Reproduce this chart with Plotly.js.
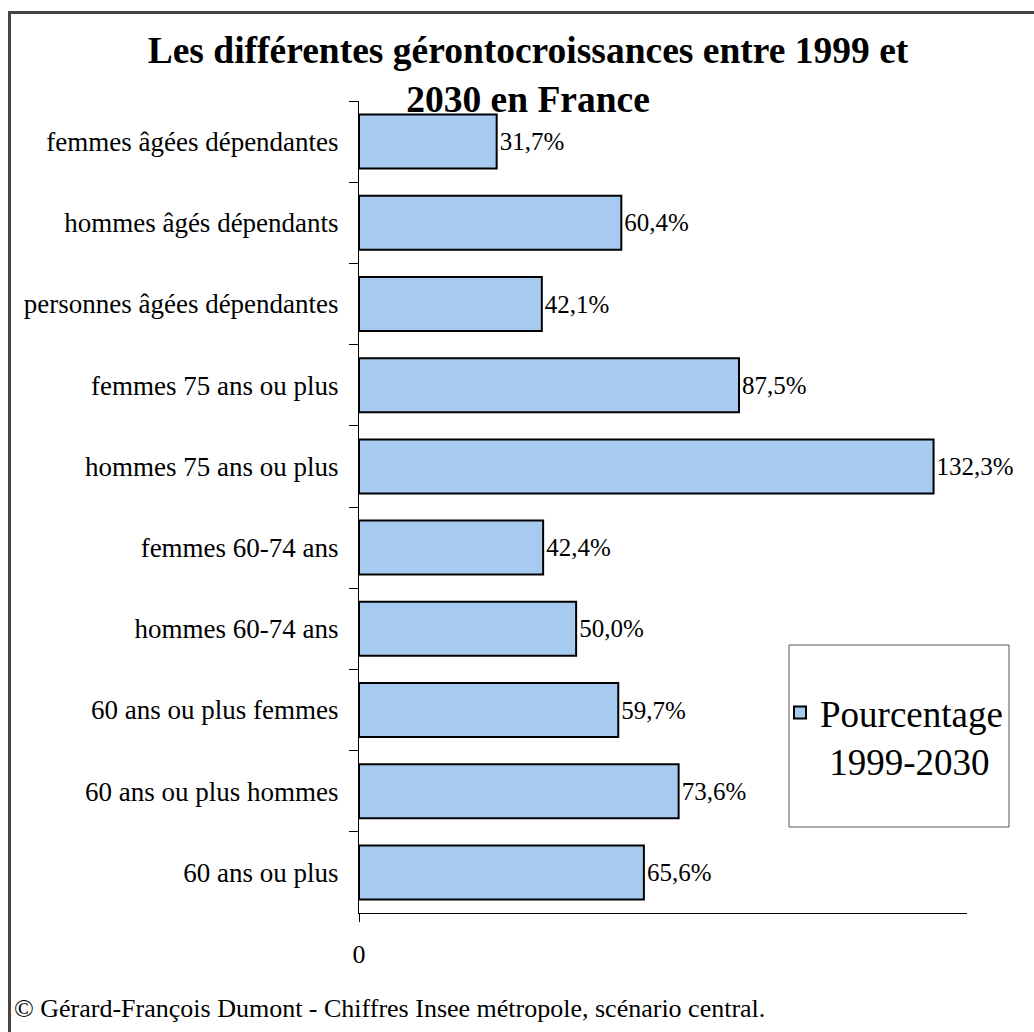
<!DOCTYPE html>
<html>
<head>
<meta charset="utf-8">
<script src="https://cdn.plot.ly/plotly-3.0.1.min.js"></script>
<style>
  html, body { margin: 0; padding: 0; background: #fff; }
  #chart { width: 1034px; height: 1032px; }
</style>
</head>
<body>
<div id="chart"></div>
<script>
// Growth of elderly populations in France, 1999-2030 (percent)
const categories = [
  'femmes âgées dépendantes',
  'hommes âgés dépendants',
  'personnes âgées dépendantes',
  'femmes 75 ans ou plus',
  'hommes 75 ans ou plus',
  'femmes 60-74 ans',
  'hommes 60-74 ans',
  '60 ans ou plus femmes',
  '60 ans ou plus hommes',
  '60 ans ou plus'
];
const growthPct = [31.7, 60.4, 42.1, 87.5, 132.3, 42.4, 50.0, 59.7, 73.6, 65.6];
const xTickValues = [0];
const xTickLabels = ['0'];
const seriesName = 'Pourcentage<br>\u00a01999-2030';
const chartTitle = 'Les différentes gérontocroissances entre 1999 et<br>2030 en France';
const sourceNote = '© Gérard-François Dumont - Chiffres Insee métropole, scénario central.';

// Page geometry (pixels) and helpers converting page pixels to paper fractions
const W = 1034, H = 1032;
const M = { l: 359, r: 67, t: 101, b: 119 };
const pw = W - M.l - M.r, ph = H - M.t - M.b;
const px = x => (x - M.l) / pw;
const py = y => (H - M.b - y) / ph;

const SERIF = 'Liberation Serif';

const trace = {
  type: 'bar',
  orientation: 'h',
  y: categories,
  x: growthPct,
  name: seriesName,
  marker: { color: '#a6caf0', line: { color: '#000000', width: 2 } },
  texttemplate: '%{x:.1f}%',
  textposition: 'outside',
  textfont: { family: SERIF, size: 25, color: '#000' },
  cliponaxis: false,
  showlegend: true,
  hoverinfo: 'skip'
};

const layout = {
  width: W,
  height: H,
  margin: M,
  paper_bgcolor: '#ffffff',
  plot_bgcolor: '#ffffff',
  separators: ', ',
  bargap: 0.335,
  font: { family: SERIF, color: '#000' },
  title: {
    text: chartTitle,
    font: { family: SERIF, size: 37.5, color: '#000', weight: 'bold' },
    x: 528 / W,
    xanchor: 'center',
    xref: 'container',
    y: 1 - 63 / H,
    yref: 'container',
    yanchor: 'top'
  },
  xaxis: {
    range: [0, 140],
    showgrid: false,
    zeroline: false,
    showline: true,
    linecolor: '#000',
    linewidth: 1,
    ticks: 'outside',
    ticklen: 8,
    tickcolor: '#000',
    tickvals: xTickValues,
    ticktext: xTickLabels,
    ticklabelstandoff: 10,
    tickfont: { family: SERIF, size: 26, color: '#000' },
    fixedrange: true
  },
  yaxis: {
    type: 'category',
    autorange: 'reversed',
    showgrid: false,
    zeroline: false,
    showline: true,
    linecolor: '#000',
    linewidth: 1,
    ticks: 'outside',
    tickson: 'boundaries',
    ticklen: 9,
    tickcolor: '#000',
    ticklabelstandoff: 14,
    tickfont: { family: SERIF, size: 27, color: '#000' },
    fixedrange: true
  },
  showlegend: true,
  legend: {
    x: px(780),
    xanchor: 'left',
    y: py(682),
    yanchor: 'top',
    valign: 'top',
    bgcolor: 'rgba(0,0,0,0)',
    borderwidth: 0,
    font: { family: SERIF, size: 37, color: '#000' }
  },
  shapes: [
    // legend frame
    { type: 'rect', xref: 'paper', yref: 'paper',
      x0: px(789), x1: px(1009), y0: py(827), y1: py(645),
      line: { color: '#555', width: 1 }, fillcolor: 'rgba(0,0,0,0)' },
    // outer frame, left and top edges
    { type: 'line', xref: 'paper', yref: 'paper',
      x0: px(9.5), x1: px(9.5), y0: py(H + 5), y1: py(11),
      line: { color: '#444', width: 3 } },
    { type: 'line', xref: 'paper', yref: 'paper',
      x0: px(8), x1: px(W + 5), y0: py(12.5), y1: py(12.5),
      line: { color: '#444', width: 3 } }
  ],
  annotations: [
    { text: sourceNote, xref: 'paper', yref: 'paper',
      x: px(12), xanchor: 'left', y: py(1008), yanchor: 'middle',
      showarrow: false, font: { family: SERIF, size: 26, color: '#000' } }
  ]
};

Plotly.newPlot('chart', [trace], layout, { displayModeBar: false, staticPlot: true });
</script>
</body>
</html>
